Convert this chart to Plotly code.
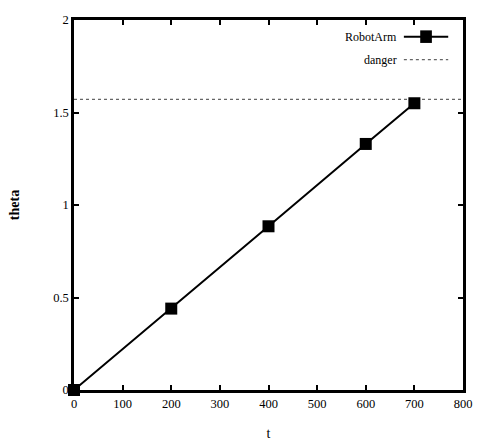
import plotly.graph_objects as go

t_vals = [0, 200, 400, 600, 700]
theta_vals = [0.0, 0.44, 0.885, 1.33, 1.55]
danger_level = 1.5708
x_ticks = [0, 100, 200, 300, 400, 500, 600, 700, 800]
y_ticks = [0, 0.5, 1, 1.5, 2]
y_tick_text = ["0", "0.5", "1", "1.5", "2"]

font = "Liberation Serif, Times New Roman, serif"

fig = go.Figure()
fig.add_trace(go.Scatter(
    x=[0, 800], y=[danger_level, danger_level], mode="lines",
    line=dict(color="#666666", width=1.2, dash="dot"), name="danger",
    showlegend=False))
fig.add_trace(go.Scatter(
    x=t_vals, y=theta_vals, mode="lines+markers",
    line=dict(color="black", width=2),
    marker=dict(symbol="square", size=12, color="black"),
    name="RobotArm", showlegend=False, cliponaxis=False))

axis_common = dict(
    showline=True, linecolor="black", linewidth=2.5, mirror="ticks",
    ticks="inside", ticklen=5, tickwidth=2, tickcolor="black",
    showgrid=False, zeroline=False, automargin=False,
    tickfont=dict(family=font, size=12.5, color="black"))

fig.update_xaxes(range=[0, 800], tickvals=x_ticks,
                 title=dict(text="t", font=dict(family=font, size=14, color="black"), standoff=21),
                 **axis_common)
fig.update_yaxes(range=[0, 2], tickvals=y_ticks, ticktext=y_tick_text,
                 title=dict(text="<b>theta</b>", font=dict(family=font, size=14, color="black"), standoff=31),
                 **axis_common)

# manual legend (gnuplot style: text then sample)
fig.add_annotation(xref="paper", yref="paper", x=0.836, y=0.955, xanchor="right", yanchor="middle",
                   text="RobotArm", showarrow=False, font=dict(family=font, size=12, color="black"))
fig.add_annotation(xref="paper", yref="paper", x=0.836, y=0.893, xanchor="right", yanchor="middle",
                   text="danger", showarrow=False, font=dict(family=font, size=12, color="black"))
fig.add_shape(type="line", xref="paper", yref="paper", x0=0.848, x1=0.962, y0=0.955, y1=0.955,
              line=dict(color="black", width=2))
fig.add_shape(type="rect", xref="paper", yref="paper", x0=0.89, x1=0.92, y0=0.938, y1=0.972,
              line=dict(color="black", width=0), fillcolor="black")
fig.add_shape(type="line", xref="paper", yref="paper", x0=0.848, x1=0.962, y0=0.893, y1=0.893,
              line=dict(color="#666666", width=1.2, dash="dot"))

fig.update_layout(
    width=478, height=441,
    margin=dict(l=74, r=15, t=20, b=51),
    paper_bgcolor="white", plot_bgcolor="white",
    font=dict(family=font, color="black"),
)

fig.write_html("out.html")
